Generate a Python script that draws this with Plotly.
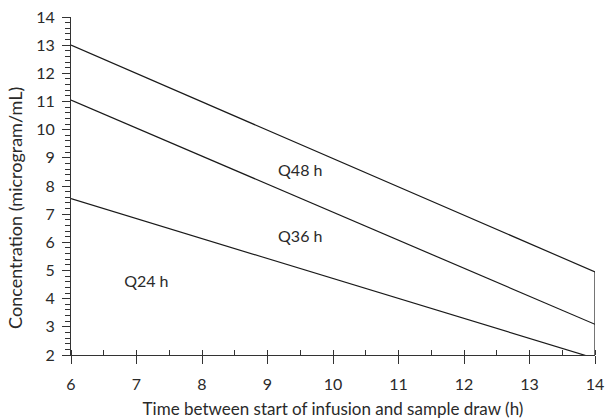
import plotly.graph_objects as go

# Data
time_h = [6, 14]
q48 = [13.0, 4.95]
q36 = [11.05, 3.09]
q24 = [7.55, 1.88]
end_x = [14, 14]
end_y = [2.0, 4.95]

labels = ["Q48 h", "Q36 h", "Q24 h"]
label_x = [9.5, 9.5, 7.15]
label_y = [8.5, 6.15, 4.56]

x_ticks = [6, 7, 8, 9, 10, 11, 12, 13, 14]
y_ticks = [2, 3, 4, 5, 6, 7, 8, 9, 10, 11, 12, 13, 14]

x_title = "Time between start of infusion and sample draw (h)"
y_title = "Concentration (microgram/mL)"

FONT = "Lato"
TXT = "#2a2a2a"
LINE = dict(color="#1a1a1a", width=1.2)

fig = go.Figure()
for ys in (q48, q36, q24):
    fig.add_trace(go.Scatter(x=time_h, y=ys, mode="lines", line=LINE,
                             showlegend=False, hoverinfo="skip"))
fig.add_trace(go.Scatter(x=end_x, y=end_y, mode="lines", line=LINE,
                         showlegend=False, hoverinfo="skip"))
fig.add_trace(go.Scatter(x=label_x, y=label_y, mode="text", text=labels,
                         textfont=dict(family=FONT, size=16, color=TXT),
                         showlegend=False, hoverinfo="skip"))

axis_common = dict(showgrid=False, zeroline=False, showline=True, automargin=False,
                   linecolor="#333", linewidth=1.2,
                   tickfont=dict(family=FONT, size=16, color=TXT),
                   ticks="outside", tickcolor="#333", tickwidth=1.2, ticklen=8)

fig.update_xaxes(range=[6, 14], tickvals=x_ticks, ticklabelstandoff=7, **axis_common,
                 minor=dict(dtick=0.5, ticks="inside", ticklen=5, tickcolor="#333", tickwidth=1.2),
                 title=dict(text=x_title, font=dict(family=FONT, size=17, color=TXT), standoff=10))
fig.update_yaxes(range=[2, 14], tickvals=y_ticks, ticklabelstandoff=4, **axis_common,
                 minor=dict(dtick=0.2, ticks="outside", ticklen=5, tickcolor="#333", tickwidth=1))

fig.add_annotation(text=y_title, xref="paper", yref="paper", x=-0.107, y=0.435,
                   xanchor="center", yanchor="middle", textangle=-90, showarrow=False,
                   font=dict(family=FONT, size=18, color=TXT))

fig.update_layout(width=606, height=420, plot_bgcolor="white", paper_bgcolor="white",
                  margin=dict(l=71, r=11, t=17, b=65, autoexpand=False))

# remove the default page margin so the 606x420 figure fills the window exactly
fig.write_html("out.html", config={"displayModeBar": False},
               post_script="document.body.style.margin='0';document.body.style.overflow='hidden';")
